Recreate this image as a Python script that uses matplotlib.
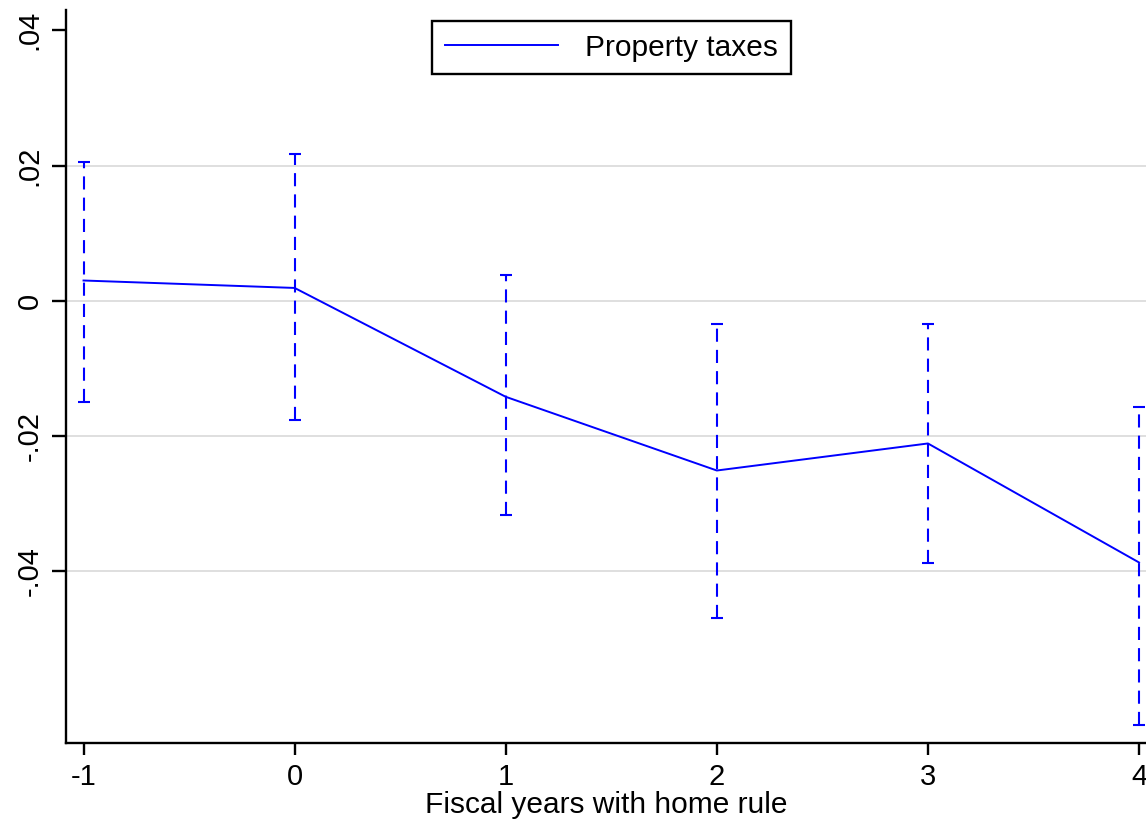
import matplotlib
matplotlib.use("Agg")
import matplotlib.pyplot as plt

# event-time coefficients and 95% CI bounds
years = [-1, 0, 1, 2, 3, 4]
coef = [0.0030, 0.0019, -0.0142, -0.0251, -0.0211, -0.0387]
ci_hi = [0.0206, 0.0217, 0.0038, -0.0035, -0.0035, -0.0157]
ci_lo = [-0.0149, -0.0176, -0.0317, -0.0469, -0.0388, -0.0628]

ytick_vals = [0.04, 0.02, 0.0, -0.02, -0.04]
ytick_labels = [".04", ".02", "0", "-.02", "-.04"]

plt.rcParams['font.family'] = ['Liberation Sans', 'DejaVu Sans']

fig = plt.figure(figsize=(11.46, 8.23), dpi=100)
ax = fig.add_axes([0.0576, 0.0972, 0.9424, 0.8906])

blue = (0, 0, 1)

# confidence intervals, dashed with caps
err = [[c - l for c, l in zip(coef, ci_lo)], [h - c for c, h in zip(coef, ci_hi)]]
eb = ax.errorbar(years, coef, yerr=err, fmt='none', ecolor=blue, elinewidth=1.5,
                 capsize=4, capthick=1.5, zorder=3)
eb[2][0].set_linestyle((0, (6.3, 3.9)))

ax.plot(years, coef, color=blue, lw=1.4, label="Property taxes", zorder=4)

ax.set_xlim(-1.083, 4.033)
ax.set_ylim(-0.0654, 0.0430)

ax.set_xticks(years)
ax.set_xticklabels([str(y) for y in years])
ax.set_yticks(ytick_vals)
ax.set_yticklabels(ytick_labels, rotation=90, va='center')

# light horizontal grid, none at the top tick
ax.grid(axis='y', color='#dcdcdc', lw=1.3, zorder=0)
ax.yaxis.get_gridlines()[0].set_visible(False)

for s in ['top', 'right']:
    ax.spines[s].set_visible(False)
for s in ['left', 'bottom']:
    ax.spines[s].set_linewidth(1.7)
    ax.spines[s].set_color('black')

ax.tick_params(axis='y', length=10, width=1.7, labelsize=21, pad=6)
ax.tick_params(axis='x', length=8.5, width=1.7, labelsize=21, pad=6)

ax.set_xlabel("Fiscal years with home rule", fontsize=21.5, labelpad=0)

leg = ax.legend(loc='upper center', bbox_to_anchor=(0.505, 0.985), fontsize=21.5,
                frameon=True, fancybox=False, edgecolor='black', framealpha=1,
                handlelength=3.8, handletextpad=0.9, borderpad=0.42,
                borderaxespad=0)
leg.get_frame().set_linewidth(1.7)

fig.savefig("out.png", dpi=100)
